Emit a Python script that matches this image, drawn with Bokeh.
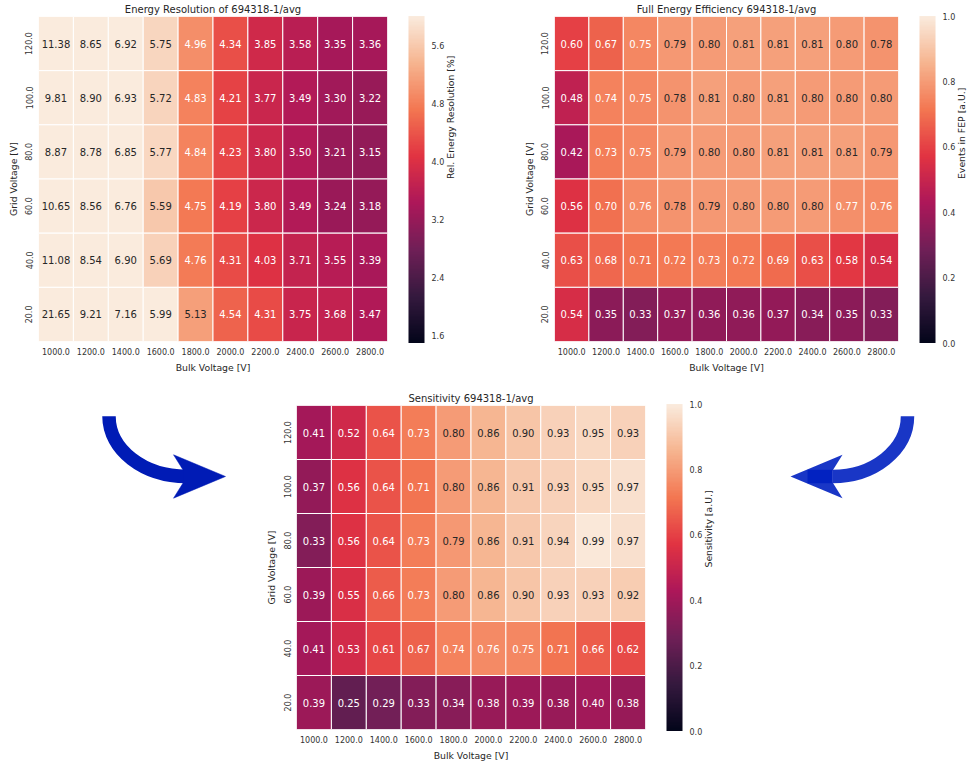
import math
from bokeh.plotting import figure
from bokeh.models import (ColumnDataSource, FactorRange, LinearColorMapper, ColorBar,
                          FixedTicker, PrintfTickFormatter, Range1d, CategoricalAxis)
from bokeh.layouts import row, column
from bokeh.core.properties import value
from bokeh.embed import file_html
from bokeh.resources import INLINE

# ---------------- data ----------------
bulk_voltages = ["1000.0", "1200.0", "1400.0", "1600.0", "1800.0",
                 "2000.0", "2200.0", "2400.0", "2600.0", "2800.0"]
grid_voltages = ["120.0", "100.0", "80.0", "60.0", "40.0", "20.0"]  # top -> bottom

energy_resolution = [
    [11.38, 8.65, 6.92, 5.75, 4.96, 4.34, 3.85, 3.58, 3.35, 3.36],
    [9.81, 8.90, 6.93, 5.72, 4.83, 4.21, 3.77, 3.49, 3.30, 3.22],
    [8.87, 8.78, 6.85, 5.77, 4.84, 4.23, 3.80, 3.50, 3.21, 3.15],
    [10.65, 8.56, 6.76, 5.59, 4.75, 4.19, 3.80, 3.49, 3.24, 3.18],
    [11.08, 8.54, 6.90, 5.69, 4.76, 4.31, 4.03, 3.71, 3.55, 3.39],
    [21.65, 9.21, 7.16, 5.99, 5.13, 4.54, 4.31, 3.75, 3.68, 3.47],
]
fep_efficiency = [
    [0.60, 0.67, 0.75, 0.79, 0.80, 0.81, 0.81, 0.81, 0.80, 0.78],
    [0.48, 0.74, 0.75, 0.78, 0.81, 0.80, 0.81, 0.80, 0.80, 0.80],
    [0.42, 0.73, 0.75, 0.79, 0.80, 0.80, 0.81, 0.81, 0.81, 0.79],
    [0.56, 0.70, 0.76, 0.78, 0.79, 0.80, 0.80, 0.80, 0.77, 0.76],
    [0.63, 0.68, 0.71, 0.72, 0.73, 0.72, 0.69, 0.63, 0.58, 0.54],
    [0.54, 0.35, 0.33, 0.37, 0.36, 0.36, 0.37, 0.34, 0.35, 0.33],
]
sensitivity = [
    [0.41, 0.52, 0.64, 0.73, 0.80, 0.86, 0.90, 0.93, 0.95, 0.93],
    [0.37, 0.56, 0.64, 0.71, 0.80, 0.86, 0.91, 0.93, 0.95, 0.97],
    [0.33, 0.56, 0.64, 0.73, 0.79, 0.86, 0.91, 0.94, 0.99, 0.97],
    [0.39, 0.55, 0.66, 0.73, 0.80, 0.86, 0.90, 0.93, 0.93, 0.92],
    [0.41, 0.53, 0.61, 0.67, 0.74, 0.76, 0.75, 0.71, 0.66, 0.62],
    [0.39, 0.25, 0.29, 0.33, 0.34, 0.38, 0.39, 0.38, 0.40, 0.38],
]
energy_ticks = [1.6, 2.4, 3.2, 4.0, 4.8, 5.6]
unit_ticks = [0.0, 0.2, 0.4, 0.6, 0.8, 1.0]

# ---------------- rocket colormap ----------------
ROCKET = [(0.0, "#03051a"), (1 / 7, "#35193e"), (2 / 7, "#701f57"), (3 / 7, "#ad1759"),
          (4 / 7, "#e13342"), (5 / 7, "#f37651"), (6 / 7, "#f6b48f"), (1.0, "#faebdd")]


def h2rgb(h):
    h = h.lstrip("#")
    return tuple(int(h[i:i + 2], 16) for i in (0, 2, 4))


def rocket_rgb(t):
    t = min(max(t, 0.0), 1.0)
    for (t0, c0), (t1, c1) in zip(ROCKET[:-1], ROCKET[1:]):
        if t <= t1:
            f = (t - t0) / (t1 - t0)
            a, b = h2rgb(c0), h2rgb(c1)
            return tuple(a[k] + (b[k] - a[k]) * f for k in range(3))
    return h2rgb(ROCKET[-1][1])


PALETTE = ["#%02x%02x%02x" % tuple(int(round(v)) for v in rocket_rgb(i / 255)) for i in range(256)]


def luminance(rgb):
    out = []
    for c in rgb:
        c = c / 255
        out.append(c / 12.92 if c <= 0.03928 else ((c + 0.055) / 1.055) ** 2.4)
    return 0.2126 * out[0] + 0.7152 * out[1] + 0.0722 * out[2]


FONT = value("DejaVu Sans")
DARK = "#262626"
FRAME_H = 327
HAS_LABEL_ORIENT = "axis_label_orientation" in CategoricalAxis.properties()


def heatmap(title, matrix, low, high, ticks, cbar_label, width, height,
            bl, br, bt, bb):
    xs, ys, vs, labels, tcol = [], [], [], [], []
    for r, g in enumerate(grid_voltages):
        for c, b in enumerate(bulk_voltages):
            v = matrix[r][c]
            xs.append(b)
            ys.append(g)
            vs.append(v)
            labels.append("%.2f" % v)
            lum = luminance(rocket_rgb((v - low) / (high - low)))
            tcol.append(DARK if lum > 0.408 else "white")
    src = ColumnDataSource(dict(x=xs, y=ys, v=vs, label=labels, tc=tcol))
    mapper = LinearColorMapper(palette=PALETTE, low=low, high=high)

    p = figure(x_range=FactorRange(*bulk_voltages),
               y_range=FactorRange(*reversed(grid_voltages)),
               width=width, height=height, title=title,
               output_backend="svg", toolbar_location=None,
               min_border_left=bl, min_border_right=br,
               min_border_top=bt, min_border_bottom=bb)
    p.rect(x="x", y="y", width=1, height=1, source=src,
           fill_color={"field": "v", "transform": mapper},
           line_color="white", line_width=1)
    p.text(x="x", y="y", text="label", source=src, text_color="tc",
           text_align="center", text_baseline="middle",
           text_font=FONT, text_font_size="10px")

    p.title.align = "center"
    p.title.text_font = "DejaVu Sans"
    p.title.text_font_size = "10px"
    p.title.text_font_style = "normal"
    p.title.text_color = DARK
    p.title.standoff = 3

    for ax in (p.xaxis[0], p.yaxis[0]):
        ax.axis_line_color = None
        ax.major_tick_line_color = None
        ax.minor_tick_line_color = None
        ax.major_tick_out = 0
        ax.major_tick_in = 0
        ax.major_label_text_font = "DejaVu Sans"
        ax.major_label_text_font_size = "8px"
        ax.major_label_text_color = "#333333"
        ax.axis_label_text_font = "DejaVu Sans"
        ax.axis_label_text_font_size = "9.3px"
        ax.axis_label_text_font_style = "normal"
        ax.axis_label_text_color = DARK
        ax.major_label_standoff = 6
        ax.axis_label_standoff = 4
    p.xaxis.axis_label = "Bulk Voltage [V]"
    p.yaxis.axis_label = "Grid Voltage [V]"
    p.yaxis.major_label_orientation = "vertical"
    p.grid.visible = False
    p.outline_line_color = None
    p.background_fill_color = "white"

    # invisible spacer between heatmap and colour bar (a fully transparent bar)
    spacer = ColorBar(color_mapper=mapper, ticker=FixedTicker(ticks=[]),
                      width=21, height=20, location="center_left",
                      margin=0, padding=0, label_standoff=0, scale_alpha=0,
                      major_tick_line_color=None, minor_tick_line_color=None,
                      bar_line_color=None, border_line_color=None,
                      background_fill_alpha=0)
    p.add_layout(spacer, "right")

    cb = ColorBar(color_mapper=mapper, ticker=FixedTicker(ticks=ticks),
                  formatter=PrintfTickFormatter(format="%.1f"),
                  width=16, height=FRAME_H, location="center_left",
                  margin=0, padding=0, label_standoff=7,
                  major_tick_line_color=None, minor_tick_line_color=None,
                  major_label_text_font="DejaVu Sans",
                  major_label_text_font_size="8px",
                  major_label_text_color="#333333",
                  bar_line_color=None, border_line_color=None,
                  background_fill_alpha=0)
    p.add_layout(cb, "right")

    lab = CategoricalAxis(ticker=FixedTicker(ticks=[]),
                          axis_label=cbar_label, axis_line_color=None,
                          major_tick_line_color=None, minor_tick_line_color=None,
                          major_tick_out=0, major_tick_in=0, minor_tick_out=0,
                          minor_tick_in=0, axis_label_standoff=3,
                          axis_label_text_font="DejaVu Sans",
                          axis_label_text_font_size="9.3px",
                          axis_label_text_font_style="normal",
                          axis_label_text_color=DARK)
    if HAS_LABEL_ORIENT:
        lab.axis_label_orientation = math.pi / 2
    p.add_layout(lab, "right")
    return p


fig_a = heatmap("Energy Resolution of 694318-1/avg", energy_resolution, 1.5, 6.0,
                energy_ticks, "Rel. Energy Resolution [%]", 490, 375,
                38, 103, 16, 32)
fig_b = heatmap("Full Energy Efficiency 694318-1/avg", fep_efficiency, 0.0, 1.0,
                unit_ticks, "Events in FEP [a.U.]", 485, 375,
                64, 72, 16, 32)
fig_c = heatmap("Sensitivity 694318-1/avg", sensitivity, 0.0, 1.0,
                unit_ticks, "Sensitivity [a.U.]", 465, 388,
                36, 80, 30, 31)


def arrow_fig(width, height):
    f = figure(width=width, height=height, x_range=Range1d(0, width),
               y_range=Range1d(height, 0), x_axis_type=None, y_axis_type=None,
               output_backend="svg", toolbar_location=None,
               min_border=0)
    f.grid.visible = False
    f.outline_line_color = None
    return f


# left arrow (curving down, then right)
fig_l = arrow_fig(260, 388)
fig_l.bezier(x0=[108.5], y0=[13], x1=[186], y1=[85], cx0=[108.5], cy0=[53],
             cx1=[143], cy1=[85], line_width=13.5, line_color="#001bb5")
fig_l.patch(x=[225, 173, 183, 183, 173], y=[85, 59, 78, 92, 111],
            fill_color="#001bb5", line_color="#001bb5", line_width=0.5)

# right arrow (curving down, then left), semi-transparent
fig_r = arrow_fig(250, 388)
fig_r.bezier(x0=[182], y0=[13], x1=[107], y1=[85], cx0=[182], cy0=[53],
             cx1=[148], cy1=[85], line_width=13.5, line_color="#0020c0", line_alpha=0.9)
fig_r.segment(x0=[107], y0=[85], x1=[82], y1=[85], line_width=13.5,
              line_color="#0020c0", line_alpha=0.9)
fig_r.patch(x=[65, 117, 107, 107, 117], y=[85, 59, 78, 92, 111],
            fill_color="#0020c0", fill_alpha=0.9, line_color=None)

layout = column(row(fig_a, fig_b), row(fig_l, fig_c, fig_r))

with open("out.html", "w") as fh:
    fh.write(file_html(layout, INLINE))
